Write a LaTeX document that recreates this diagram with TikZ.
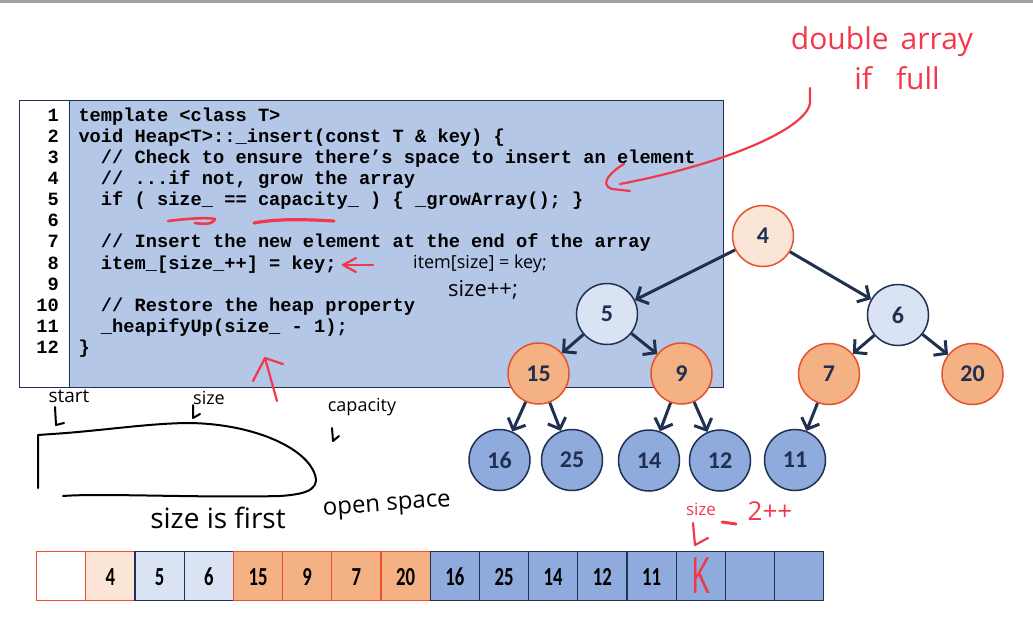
\documentclass[tikz,border=0pt]{standalone}
\usepackage{graphicx}
\usepackage{fontspec}
\setmainfont{Carlito}
\newfontfamily\codefont{Liberation Mono}
\newfontfamily\handfont{Open Sans}
\usetikzlibrary{arrows.meta}
\definecolor{codebg}{HTML}{B4C7E7}
\definecolor{navy}{HTML}{1F3050}
\definecolor{redline}{HTML}{E8502E}
\definecolor{peach}{HTML}{FBE5D6}
\definecolor{orangef}{HTML}{F4B183}
\definecolor{lblue}{HTML}{DAE3F3}
\definecolor{mblue}{HTML}{8FAADC}
\definecolor{ink}{HTML}{F2384A}
\definecolor{topgray}{HTML}{A0A0A0}
\begin{document}
\begin{tikzpicture}[x=1pt,y=-1pt,
 code/.style={anchor=base west, inner sep=0pt, font=\codefont\bfseries\fontsize{18.7}{21}\selectfont},
 lnum/.style={anchor=base east, inner sep=0pt, font=\codefont\bfseries\fontsize{18.7}{21}\selectfont},
 hn/.style={circle, minimum size=61pt, inner sep=0pt, line width=1.5pt, font=\bfseries\fontsize{24}{24}\selectfont, text=navy},
 hpeach/.style={hn, fill=peach, draw=redline},
 hlb/.style={hn, fill=lblue, draw=navy},
 hor/.style={hn, fill=orangef, draw=redline},
 hbl/.style={hn, fill=mblue, draw=navy},
 tarr/.style={draw=navy, line width=3pt, -{Straight Barb[length=9pt,width=19pt]}},
 cell/.style={rectangle, anchor=north west, minimum width=49.2pt, minimum height=49pt, inner sep=0pt, line width=1.2pt},
 cred/.style={cell, draw=redline},
 cnavy/.style={cell, draw=navy},
 cnum/.style={inner sep=0pt, font=\bfseries\fontsize{26}{26}\selectfont, text=black},
 hand/.style={inner sep=0pt, font=\handfont\fontsize{#1}{#1}\selectfont},
 inkline/.style={draw=ink, line width=2.2pt, line cap=round, line join=round},
 blkline/.style={draw=black, line width=2pt, line cap=round, line join=round},
]
\useasboundingbox (0,0) rectangle (1033,622);
\fill[topgray] (0,0) rectangle (1033,3);

% code box
\node[draw=navy, fill=codebg, line width=1.3pt, minimum width=654pt, minimum height=287pt, anchor=north west, inner sep=0pt] (codebox) at (69,100) {};
\node[draw=navy, fill=white, line width=1.3pt, minimum width=50pt, minimum height=287pt, anchor=north west, inner sep=0pt] (numbox) at (19,100) {};

\foreach \i in {1,...,12} {
  \node[lnum] (n\i) at (59,{121+21.15*(\i-1)}) {\i};
}
\node[code] (l1) at (78.3,121) {template <class T>};
\node[code] (l2) at (78.3,142.15) {void Heap<T>::\_insert(const T \& key) \{};
\node[code] (l3) at (100.74,163.3) {// Check to ensure there’s space to insert an element};
\node[code] (l4) at (100.74,184.45) {// ...if not, grow the array};
\node[code] (l5) at (100.74,205.6) {if ( size\_ == capacity\_ ) \{ \_growArray(); \}};
\node[code] (l7) at (100.74,247.9) {// Insert the new element at the end of the array};
\node[code] (l8) at (100.74,269.05) {item\_[size\_++] = key;};
\node[code] (l10) at (100.74,311.35) {// Restore the heap property};
\node[code] (l11) at (100.74,332.5) {\_heapifyUp(size\_ - 1);};
\node[code] (l12) at (78.3,353.65) {\}};

% tree
\node[hpeach] (t4) at (763,236) {4};
\node[hlb] (t5) at (607,314) {5};
\node[hlb] (t6) at (898,315) {6};
\node[hor] (t15) at (538.5,373.5) {15};
\node[hor] (t9) at (681.5,373.5) {9};
\node[hor] (t7) at (829,374) {7};
\node[hor] (t20) at (972.5,374) {20};
\node[hbl] (t16) at (499.5,460) {16};
\node[hbl] (t25) at (572,460) {25};
\node[hbl] (t14) at (649,460.5) {14};
\node[hbl] (t12) at (720,460.5) {12};
\node[hbl] (t11) at (795,460) {11};
\draw[tarr] (t4) -- (t5);
\draw[tarr] (t4) -- (t6);
\draw[tarr] (t5) -- (t15);
\draw[tarr] (t5) -- (t9);
\draw[tarr] (t6) -- (t7);
\draw[tarr] (t6) -- (t20);
\draw[tarr] (t15) -- (t16);
\draw[tarr] (t15) -- (t25);
\draw[tarr] (t9) -- (t14);
\draw[tarr] (t9) -- (t12);
\draw[tarr] (t7) -- (t11);

% array
\node[cred] (c0) at ({36+49.2*0},551) {};
\node[cred, fill=peach] (c1) at ({36+49.2*1},551) {};
\node[cnavy, fill=lblue] (c2) at ({36+49.2*2},551) {};
\node[cnavy, fill=lblue] (c3) at ({36+49.2*3},551) {};
\node[cred, fill=orangef] (c4) at ({36+49.2*4},551) {};
\node[cred, fill=orangef] (c5) at ({36+49.2*5},551) {};
\node[cred, fill=orangef] (c6) at ({36+49.2*6},551) {};
\node[cred, fill=orangef] (c7) at ({36+49.2*7},551) {};
\foreach \k in {8,...,15} {
  \node[cnavy, fill=mblue] (c\k) at ({36+49.2*\k},551) {};
}
\foreach \k/\v in {1/4,2/5,3/6,4/15,5/9,6/7,7/20,8/16,9/25,10/14,11/12,12/11} {
  \node[cnum] (v\k) at ([yshift=-1pt]c\k.center) {\scalebox{0.72}[1]{\v}};
}

% red handwriting
\node[hand=30, text=ink] (dbl) at (882,42) {double\hspace{12pt}array};
\node[hand=30, text=ink] (iff) at (897,78) {if\hspace{24pt}full};
\coordinate (r1) at (810,88);
\coordinate (r2) at (620,184);
\draw[inkline] (r1) -- (810,103) .. controls (806,130) and (720,165) .. (r2);
\draw[inkline] (624,164) .. controls (612,171) and (598,184) .. (612,189) -- (630,191);
\draw[inkline, line width=2.6pt] (168,221) .. controls (185,219) and (205,217) .. (215,219) .. controls (214,223) and (208,225) .. (195,223);
\draw[inkline, line width=3.2pt] (254,223) .. controls (275,219) and (300,219) .. (334,221);
\coordinate (r3) at (373,265);
\coordinate (r4) at (343,265);
\draw[inkline] (r3) -- (r4);
\draw[inkline] (356,258) -- (r4) -- (356,272);
\coordinate (r5) at (277,401);
\coordinate (r6) at (265,358);
\draw[inkline] (r5) -- (r6);
\draw[inkline] (253,381) -- (r6) -- (283,364);
\node[hand=17, text=ink] (rsize) at (701,509) {size};
\draw[inkline, line width=3pt] (722,522) -- (736,524);
\node[hand=26, text=ink] (rpp) at (770,511) {2++};
\coordinate (r7) at (693,523);
\coordinate (r8) at (695,545);
\draw[inkline] (r7) -- (r8) -- (708,538);
\node[hand=50, text=ink] (kk) at (c13.center) {\scalebox{0.6}[1]{K}};

% black handwriting
\node[hand=18] (h1) at (480,264) {item[size] = key;};
\node[hand=22] (h2) at (483,290) {size++;};
\node[hand=19] (hstart) at (69,396) {start};
\node[hand=18] (hsize) at (209,398) {size};
\node[hand=18] (hcap) at (362,407) {capacity};
\draw[blkline] (55,407) -- (56,425) -- (64,423);
\draw[blkline] (193,405) -- (193,418) -- (200,414);
\draw[blkline] (332,428) -- (333,441) -- (339,436);
\draw[blkline] (38,488) -- (38,435) -- (52,434) .. controls (100,431) and (150,423) .. (190,423) .. controls (250,424) and (300,445) .. (313,470) .. controls (322,488) and (310,494) .. (280,496) .. controls (200,498) and (100,493) .. (63,496);
\node[hand=28] (hfirst) at (218,518) {size is first};
\node[hand=24, rotate=4] (hopen) at (387,507) {open space};
\end{tikzpicture}
\end{document}
